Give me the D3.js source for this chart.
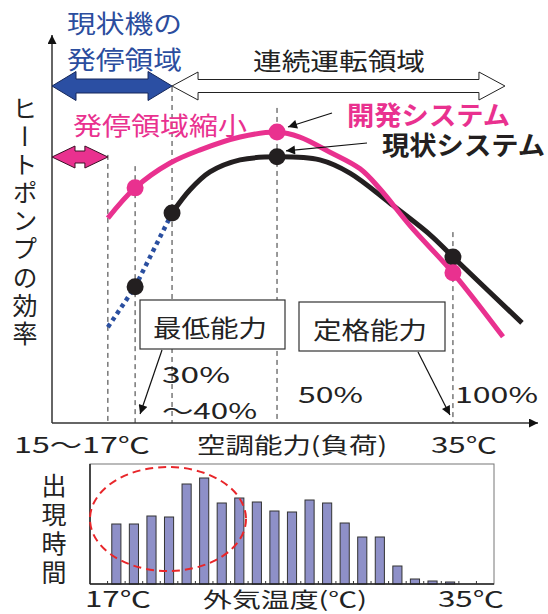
<!DOCTYPE html>
<html>
<head>
<meta charset="utf-8">
<script src="https://cdn.jsdelivr.net/npm/d3@7"></script>
<style>
  body { margin: 0; background: #fff; }
  svg text { font-family: "Noto Sans CJK JP", "Noto Sans", sans-serif; }
</style>
</head>
<body>
<svg id="chart" width="548" height="614"></svg>
<script>
// Upper chart: x = air-con load position (0-100), y = heat pump efficiency (0-100)
const devCurve = [[11.5, 52.8], [17.1, 60.6], [24.3, 67.0], [30.5, 70.4], [38.7, 73.7], [46.3, 75.0],
  [51.0, 73.7], [57.2, 69.8], [63.4, 65.5], [67.5, 60.3], [73.7, 50.8], [82.5, 38.7], [92.8, 22.2]];
const curCurve = [[24.7, 54.1], [28.4, 60.1], [32.5, 64.7], [38.7, 67.8], [46.3, 68.6], [55.1, 67.8],
  [61.3, 64.4], [69.5, 56.7], [77.8, 48.5], [82.5, 42.8], [96.7, 25.8]];
const curLowCurve = [[11.5, 24.7], [17.1, 35.1], [24.7, 54.1]];
const devPoints = [[17.1, 60.6], [46.3, 75.0], [82.5, 38.7]];
const curPoints = [[17.1, 35.1], [24.7, 54.1], [46.3, 68.6], [82.5, 42.8]];
const guideX = [11.5, 17.1, 24.7, 46.3, 82.5];
const guideTop = [69.1, 66.2, 86.6, 81.2, 49.2];

// Lower chart: hours of occurrence per outdoor temperature bin
const tempBins = d3.range(16, 39).map(String);
const hours = [0, 60, 60, 68, 67, 100, 106, 81, 86, 82, 73, 72, 84, 81, 61, 47, 47, 18, 5, 3, 2, 0, 0];
const tempTicks = [17, 35];
const tempTickLabels = ["17℃", "35℃"];

const pink = "#e9318f", black = "#231f20", blue = "#2a4fa0";

const svg = d3.select("#chart");

const defs = svg.append("defs");
defs.append("marker")
  .attr("id", "tip")
  .attr("viewBox", "0 0 10 10")
  .attr("refX", 10).attr("refY", 5)
  .attr("markerWidth", 11).attr("markerHeight", 9)
  .attr("markerUnits", "userSpaceOnUse")
  .attr("orient", "auto")
  .append("path").attr("d", "M0,0L10,5L0,10Z").attr("fill", "#111");

const txt = (g, s, x, y, o = {}) => {
  const t = g.append("text")
    .attr("x", x).attr("y", y)
    .attr("font-size", o.size || 24)
    .attr("fill", o.fill || "#222")
    .attr("font-weight", o.weight || 400)
    .attr("text-anchor", o.anchor || "start")
    .text(s);
  if (o.len) t.attr("textLength", o.len).attr("lengthAdjust", "spacingAndGlyphs");
  return t;
};

// vertical (tategaki) label
const vtxt = (g, s, x, y, size, spacing) =>
  g.append("text")
    .attr("x", x).attr("y", y)
    .attr("font-size", size)
    .attr("fill", "#222")
    .style("writing-mode", "vertical-rl")
    .style("letter-spacing", `${spacing}px`)
    .text(s);

const dblArrow = (x0, x1, cy, sh, hh, hl) =>
  `M${x0},${cy}L${x0 + hl},${cy - hh}L${x0 + hl},${cy - sh}L${x1 - hl},${cy - sh}L${x1 - hl},${cy - hh}` +
  `L${x1},${cy}L${x1 - hl},${cy + hh}L${x1 - hl},${cy + sh}L${x0 + hl},${cy + sh}L${x0 + hl},${cy + hh}Z`;

//Scales
const x = d3.scaleLinear().domain([0, 100]).range([52, 538]);
const y = d3.scaleLinear().domain([0, 100]).range([423, 35]);

const upper = svg.append("g");

// guide lines
upper.selectAll(".guide")
  .data(guideX)
  .join("line")
  .attr("x1", d => x(d)).attr("x2", d => x(d))
  .attr("y1", (d, i) => y(guideTop[i])).attr("y2", y(0))
  .attr("stroke", "#333").attr("stroke-width", 1)
  .attr("stroke-dasharray", "5,4");

// axes
upper.append("line")
  .attr("x1", x(0)).attr("x2", x(100)).attr("y1", y(0)).attr("y2", y(0))
  .attr("stroke", "#333").attr("stroke-width", 1.5).attr("marker-end", "url(#tip)");
upper.append("line")
  .attr("x1", x(0)).attr("x2", x(0)).attr("y1", y(0)).attr("y2", y(100))
  .attr("stroke", "#333").attr("stroke-width", 1.5).attr("marker-end", "url(#tip)");

// range arrows
upper.append("path")
  .attr("d", dblArrow(x(0), x(24.7), 86, 7, 14.5, 24))
  .attr("fill", "#2b4fa3").attr("stroke", "#14275a").attr("stroke-width", 1);
upper.append("path")
  .attr("d", dblArrow(x(24.7), x(93.2), 86, 6.5, 14, 26))
  .attr("fill", "#fff").attr("stroke", "#222").attr("stroke-width", 1);
upper.append("path")
  .attr("d", dblArrow(x(0), x(11.5), 157, 6, 11, 23))
  .attr("fill", pink).attr("stroke", "#3a1025").attr("stroke-width", 1);

// curves
const line = d3.line().x(d => x(d[0])).y(d => y(d[1])).curve(d3.curveCatmullRom.alpha(0.5));
upper.append("path").attr("d", d3.line().x(d => x(d[0])).y(d => y(d[1]))(curLowCurve))
  .attr("fill", "none").attr("stroke", blue).attr("stroke-width", 4.5).attr("stroke-dasharray", "4,4");
upper.append("path").attr("d", line(curCurve))
  .attr("fill", "none").attr("stroke", black).attr("stroke-width", 5);
upper.append("path").attr("d", line(devCurve))
  .attr("fill", "none").attr("stroke", pink).attr("stroke-width", 5);

upper.selectAll(".cur").data(curPoints).join("circle")
  .attr("cx", d => x(d[0])).attr("cy", d => y(d[1])).attr("r", 8.5).attr("fill", black);
upper.selectAll(".dev").data(devPoints).join("circle")
  .attr("cx", d => x(d[0])).attr("cy", d => y(d[1])).attr("r", 8.5).attr("fill", pink);

// labels
txt(upper, "現状機の", 67, 33, { size: 25, fill: "#2b4d9e", len: 115 });
txt(upper, "発停領域", 67, 69, { size: 25, fill: "#2b4d9e", len: 115 });
txt(upper, "連続運転領域", 253, 70, { size: 24, len: 172 });
txt(upper, "発停領域縮小", 73, 135, { size: 25, fill: pink, len: 174 });
txt(upper, "開発システム", 347, 125, { size: 26, fill: pink, weight: 700, len: 163 });
txt(upper, "現状システム", 382, 155, { size: 26, fill: black, weight: 700, len: 163 });

// pointer arrows to the peak markers
const peakDev = devPoints[1], peakCur = curPoints[2];
upper.append("line")
  .attr("x1", 332).attr("y1", 113).attr("x2", x(peakDev[0]) + 11).attr("y2", y(peakDev[1]) - 5)
  .attr("stroke", "#111").attr("stroke-width", 1.2).attr("marker-end", "url(#tip)");
upper.append("line")
  .attr("x1", 367).attr("y1", 143).attr("x2", x(peakCur[0]) + 9).attr("y2", y(peakCur[1]) - 6)
  .attr("stroke", "#111").attr("stroke-width", 1.2).attr("marker-end", "url(#tip)");

// y label
vtxt(upper, "ヒートポンプの効率", 25, 96, 25, 3.1);

// boxes
upper.append("rect").attr("x", 140).attr("y", 300).attr("width", 145).attr("height", 49)
  .attr("fill", "#fff").attr("stroke", "#333").attr("stroke-width", 1.2);
txt(upper, "最低能力", 153, 337, { size: 24, len: 114 });
upper.append("rect").attr("x", 299).attr("y", 302).attr("width", 146).attr("height", 49)
  .attr("fill", "#fff").attr("stroke", "#333").attr("stroke-width", 1.2);
txt(upper, "定格能力", 313, 339, { size: 24, len: 114 });

upper.append("line")
  .attr("x1", 162).attr("y1", 350).attr("x2", x(17.1) + 5).attr("y2", y(0) - 9)
  .attr("stroke", "#111").attr("stroke-width", 1.2).attr("marker-end", "url(#tip)");
upper.append("line")
  .attr("x1", 418).attr("y1", 352).attr("x2", x(82.5) - 3).attr("y2", y(0) - 8)
  .attr("stroke", "#111").attr("stroke-width", 1.2).attr("marker-end", "url(#tip)");

txt(upper, "30%", 162, 383, { size: 22, len: 68 });
txt(upper, "～40%", 162, 419, { size: 22, len: 95 });
txt(upper, "50%", 298, 403, { size: 22, len: 65 });
txt(upper, "100%", 455, 403, { size: 22, len: 83 });

txt(upper, "15～17℃", 14, 453, { size: 22, len: 136 });
txt(upper, "空調能力(負荷)", 197, 453, { size: 22, len: 190 });
txt(upper, "35℃", 431, 453, { size: 22, len: 66 });

// Histogram
const hx = d3.scaleBand().domain(tempBins).range([90, 494]).paddingInner(0.48).paddingOuter(0.24);
const hy = d3.scaleLinear().domain([0, 120]).range([584, 464]);
const tx = d3.scaleLinear().domain([17, 35]).range([118, 471]);

const hist = svg.append("g");
hist.append("rect").attr("x", 90).attr("y", 464).attr("width", 404).attr("height", 120)
  .attr("fill", "none").attr("stroke", "#777").attr("stroke-width", 1);

hist.selectAll(".bar")
  .data(hours.map((h, i) => ({ t: tempBins[i], h })).filter(d => d.h > 0))
  .join("rect")
  .attr("x", d => hx(d.t)).attr("width", hx.bandwidth())
  .attr("y", d => hy(d.h)).attr("height", d => hy(0) - hy(d.h))
  .attr("fill", "#8e90c8").attr("stroke", "#333").attr("stroke-width", 1);

hist.append("line").attr("x1", 90).attr("x2", 494).attr("y1", hy(0)).attr("y2", hy(0))
  .attr("stroke", "#222").attr("stroke-width", 1.5);
hist.append("line").attr("x1", 90).attr("x2", 90).attr("y1", hy(0)).attr("y2", hy(120))
  .attr("stroke", "#222").attr("stroke-width", 1.5);

hist.selectAll(".mtick")
  .data(tempBins.slice(1))
  .join("line")
  .attr("x1", d => hx(d) - hx.step() * hx.paddingInner() / 2)
  .attr("x2", d => hx(d) - hx.step() * hx.paddingInner() / 2)
  .attr("y1", hy(0)).attr("y2", hy(0) - 3)
  .attr("stroke", "#333").attr("stroke-width", 1);

hist.append("ellipse").attr("cx", 168).attr("cy", 519).attr("rx", 78).attr("ry", 52)
  .attr("fill", "none").attr("stroke", "#e8262a").attr("stroke-width", 2).attr("stroke-dasharray", "8,5");

vtxt(hist, "出現時間", 54, 473, 25, 4);

tempTicks.forEach((t, i) => {
  txt(hist, tempTickLabels[i], tx(t), 607, { size: 22, anchor: "middle", len: 66 });
});
txt(hist, "外気温度(℃)", 203, 607, { size: 21, len: 164 });
</script>
</body>
</html>
